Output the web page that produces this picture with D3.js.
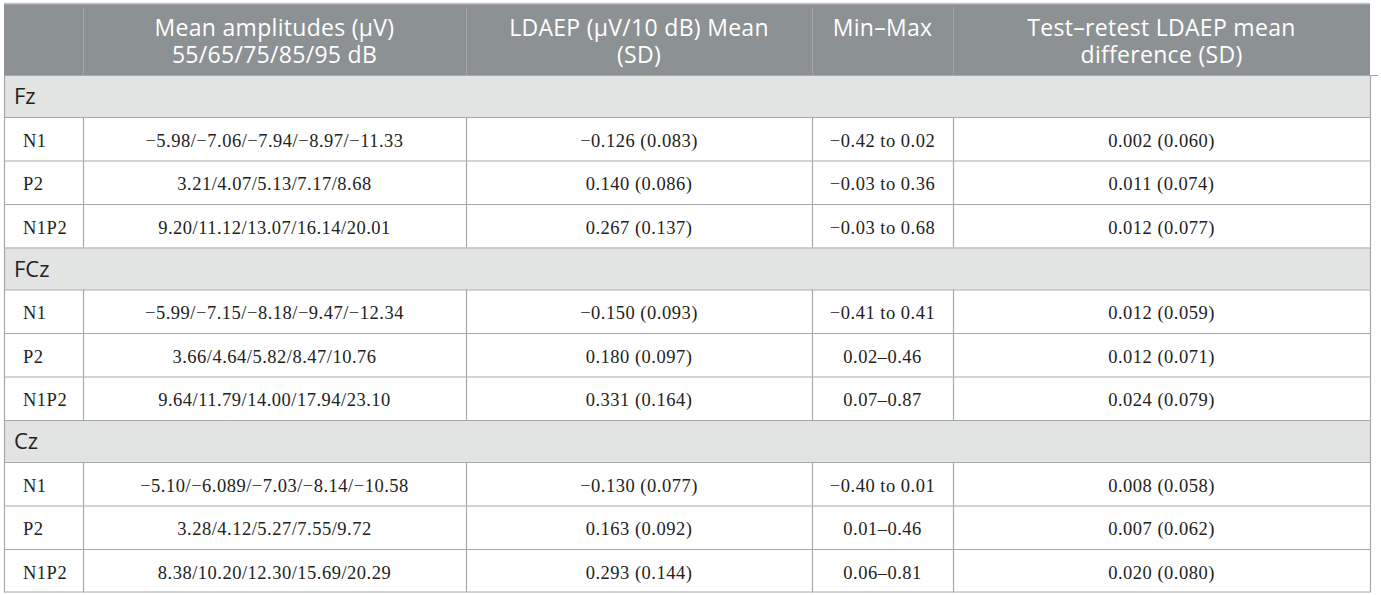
<!DOCTYPE html>
<html>
<head>
<meta charset="utf-8">
<script src="https://cdn.jsdelivr.net/npm/d3@7"></script>
<style>
  html, body { margin: 0; padding: 0; background: #ffffff; }
  svg { display: block; }
</style>
</head>
<body>
<svg id="chart" width="1381" height="595"></svg>
<script>
// ---- data ----
const headers = [
  [""],
  ["Mean amplitudes (\u03bcV)", "55/65/75/85/95 dB"],
  ["LDAEP (\u03bcV/10 dB) Mean", "(SD)"],
  ["Min\u2013Max"],
  ["Test\u2013retest LDAEP mean", "difference (SD)"]
];
const electrodes = ["Fz", "FCz", "Cz"];
const components = ["N1", "P2", "N1P2"];
const meanAmplitudes = [
  ["\u22125.98/\u22127.06/\u22127.94/\u22128.97/\u221211.33", "3.21/4.07/5.13/7.17/8.68", "9.20/11.12/13.07/16.14/20.01"],
  ["\u22125.99/\u22127.15/\u22128.18/\u22129.47/\u221212.34", "3.66/4.64/5.82/8.47/10.76", "9.64/11.79/14.00/17.94/23.10"],
  ["\u22125.10/\u22126.089/\u22127.03/\u22128.14/\u221210.58", "3.28/4.12/5.27/7.55/9.72", "8.38/10.20/12.30/15.69/20.29"]
];
const ldaepMeanSD = [
  ["\u22120.126 (0.083)", "0.140 (0.086)", "0.267 (0.137)"],
  ["\u22120.150 (0.093)", "0.180 (0.097)", "0.331 (0.164)"],
  ["\u22120.130 (0.077)", "0.163 (0.092)", "0.293 (0.144)"]
];
const minMax = [
  ["\u22120.42 to 0.02", "\u22120.03 to 0.36", "\u22120.03 to 0.68"],
  ["\u22120.41 to 0.41", "0.02\u20130.46", "0.07\u20130.87"],
  ["\u22120.40 to 0.01", "0.01\u20130.46", "0.06\u20130.81"]
];
const testRetest = [
  ["0.002 (0.060)", "0.011 (0.074)", "0.012 (0.077)"],
  ["0.012 (0.059)", "0.012 (0.071)", "0.024 (0.079)"],
  ["0.008 (0.058)", "0.007 (0.062)", "0.020 (0.080)"]
];

// ---- layout ----
const colEdges = [4, 83, 466, 812, 953, 1370];
const tableTop = 4, headerH = 71, groupH = 42, rowH = 43.5;

// build rows
const rows = [];
electrodes.forEach((e, gi) => {
  rows.push({type: "group", label: e});
  components.forEach((c, ci) => {
    rows.push({type: "data", cells: [c, meanAmplitudes[gi][ci], ldaepMeanSD[gi][ci], minMax[gi][ci], testRetest[gi][ci]]});
  });
});
let yCur = tableTop + headerH;
rows.forEach(r => { r.y = yCur; r.h = r.type === "group" ? groupH : rowH; yCur += r.h; });
const tableBottom = yCur;

const svg = d3.select("#chart");
const colMid = i => (colEdges[i] + colEdges[i + 1]) / 2;

const headerBg = "#8c9193";
const groupBg = "#e2e4e3";
const lineCol = "#a7a9a8";
const sans = "'Open Sans', 'Noto Sans', sans-serif";
const serif = "'Liberation Serif', 'DejaVu Serif', serif";

// header background
svg.append("rect")
  .attr("x", colEdges[0]).attr("y", tableTop)
  .attr("width", colEdges[5] - colEdges[0]).attr("height", headerH)
  .attr("fill", headerBg);

// group rows background
svg.selectAll("rect.group").data(rows.filter(r => r.type === "group"))
  .join("rect").attr("class", "group")
  .attr("x", colEdges[0]).attr("y", d => d.y)
  .attr("width", colEdges[5] - colEdges[0]).attr("height", d => d.h)
  .attr("fill", groupBg);

// header vertical separators (lighter)
svg.selectAll("line.hsep").data(colEdges.slice(1, 5))
  .join("line").attr("class", "hsep")
  .attr("x1", d => d + 0.5).attr("x2", d => d + 0.5)
  .attr("y1", tableTop + 3).attr("y2", tableTop + headerH)
  .attr("stroke", "#a3a7a8").attr("stroke-width", 1);

// header text
headers.forEach((lines, i) => {
  const t = svg.append("text")
    .attr("x", colMid(i)).attr("y", 36)
    .attr("text-anchor", "middle")
    .attr("font-family", sans).attr("font-size", 23)
    .attr("letter-spacing", 0.3)
    .attr("fill", "#ffffff");
  lines.forEach((ln, k) => {
    t.append("tspan").attr("x", colMid(i)).attr("dy", k === 0 ? 0 : 27).text(ln);
  });
});

// horizontal lines
svg.selectAll("line.hline").data(rows)
  .join("line").attr("class", "hline")
  .attr("x1", colEdges[0]).attr("x2", colEdges[5])
  .attr("y1", d => d.y + 0.5).attr("y2", d => d.y + 0.5)
  .attr("stroke", lineCol).attr("stroke-width", 1.2);
svg.append("line")
  .attr("x1", colEdges[0]).attr("x2", colEdges[5])
  .attr("y1", tableBottom - 0.5).attr("y2", tableBottom - 0.5)
  .attr("stroke", lineCol).attr("stroke-width", 1.2);
svg.append("line")
  .attr("x1", colEdges[0]).attr("x2", colEdges[5])
  .attr("y1", tableTop - 0.5).attr("y2", tableTop - 0.5)
  .attr("stroke", "#c4c7c6").attr("stroke-width", 1.5);
// small stray tick at right of first group row
svg.append("line")
  .attr("x1", colEdges[5]).attr("x2", colEdges[5] + 8)
  .attr("y1", tableTop + headerH + 0.5).attr("y2", tableTop + headerH + 0.5)
  .attr("stroke", lineCol).attr("stroke-width", 1);

// outer verticals
[colEdges[0], colEdges[5]].forEach(x => {
  svg.append("line")
    .attr("x1", x + 0.5).attr("x2", x + 0.5)
    .attr("y1", tableTop + headerH).attr("y2", tableBottom)
    .attr("stroke", lineCol).attr("stroke-width", 1.2);
});

// inner verticals for data rows
const dataRows = rows.filter(r => r.type === "data");
colEdges.slice(1, 5).forEach(x => {
  svg.selectAll(null).data(dataRows).join("line")
    .attr("x1", x + 0.5).attr("x2", x + 0.5)
    .attr("y1", d => d.y).attr("y2", d => d.y + d.h)
    .attr("stroke", lineCol).attr("stroke-width", 1.2);
});

// group labels
svg.selectAll("text.glabel").data(rows.filter(r => r.type === "group"))
  .join("text").attr("class", "glabel")
  .attr("x", colEdges[0] + 10).attr("y", d => d.y + d.h / 2 + 8)
  .attr("font-family", sans).attr("font-size", 22)
  .attr("fill", "#222222")
  .text(d => d.label);

// data cells
dataRows.forEach(r => {
  svg.selectAll(null).data(r.cells).join("text")
    .attr("x", (d, i) => i === 0 ? colEdges[0] + 19 : colMid(i))
    .attr("y", r.y + r.h / 2 + 8)
    .attr("text-anchor", (d, i) => i === 0 ? "start" : "middle")
    .attr("font-family", serif).attr("font-size", 18.5)
    .attr("letter-spacing", 0.5)
    .attr("fill", "#222222")
    .text(d => d);
});
</script>
</body>
</html>
